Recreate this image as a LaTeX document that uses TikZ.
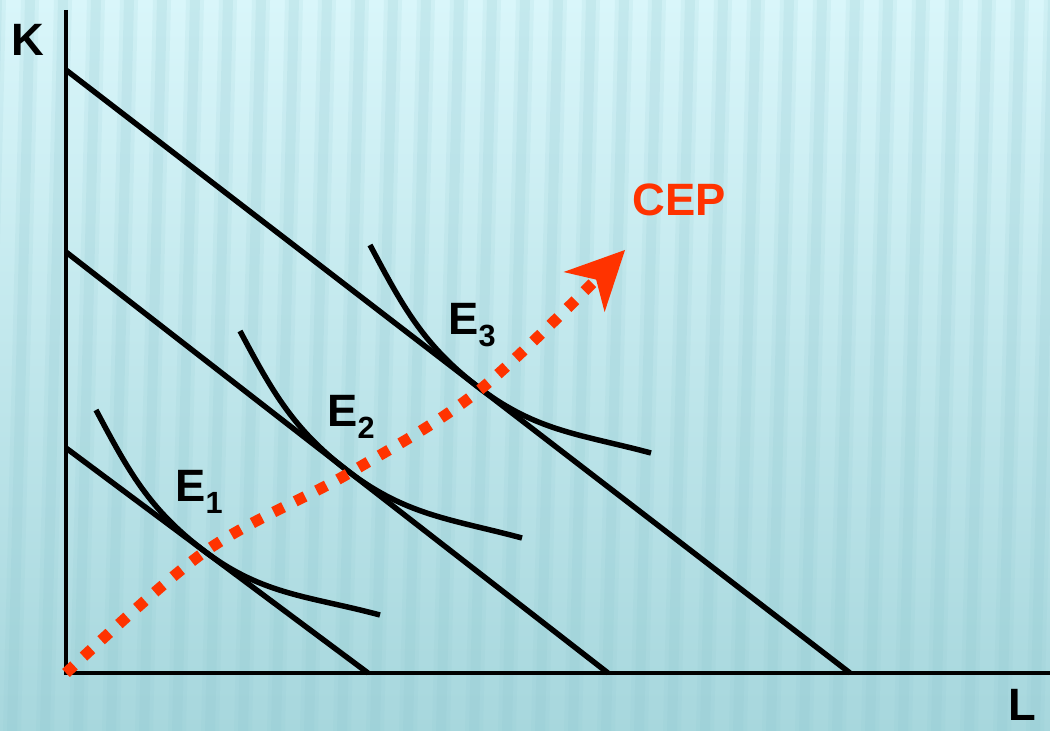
\documentclass[tikz,border=0pt]{standalone}
\usepackage{fontspec}
\setmainfont{Liberation Sans}
\usepackage{xcolor}
\usepackage{tikz}
\usetikzlibrary{arrows.meta,calc}
\definecolor{cr}{HTML}{FF3300}
\definecolor{ct}{HTML}{D9F6FA}
\definecolor{cm}{HTML}{CBEEF3}
\definecolor{cl}{HTML}{A7D7DD}
\definecolor{cs}{HTML}{8FC8D0}
\newcommand{\lo}[1]{\raisebox{-9pt}{\fontsize{23}{23}\selectfont #1}}

\begin{document}
\begin{tikzpicture}[x=0.75pt,y=0.75pt, font=\fontsize{34}{40}\selectfont\bfseries,
  line/.style={line width=4.1pt}, ax/.style={line width=3pt},
  cepline/.style={draw=cr, line width=8.25pt, dash pattern=on 8.25pt off 9.75pt},
  lab/.style={inner sep=0pt}]
  \useasboundingbox (0,0) rectangle (1050,731);
  \shade[top color=ct, middle color=cm, bottom color=cl] (0,0) rectangle (1050,731);
  \foreach \x in {-8,25,...,1090} {
    \fill[cs, opacity=0.13] (\x-4,731) -- ++(18,0) -- ++(-18,-731) -- ++(-18,0) -- cycle;
    \fill[cs, opacity=0.17] (\x,731) -- ++(10,0) -- ++(-18,-731) -- ++(-10,0) -- cycle;}
  \coordinate (O) at (66,58);
  \coordinate (Ktop) at (66,721);
  \coordinate (Lend) at (1050,58);
  \foreach \n/\a/\b/\t in {1/283/368/0.4603, 2/479/608/0.524, 3/661/850/0.529} {
    \coordinate (a\n) at (66,\a);
    \coordinate (b\n) at (\b,58);
    \coordinate (T\n) at ($(a\n)!\t!(b\n)$);}
  \foreach \n/\sx/\sy/\ex/\ey in {1/96/321/380/116, 2/240/400/522/193, 3/370/486/651/278} {
    \coordinate (s\n) at (\sx,\sy);
    \coordinate (e\n) at (\ex,\ey);}
  \coordinate (tip) at (625,481);
  \draw[ax] (Ktop) -- (O) -- (Lend);
  \foreach \n in {1,2,3} {
    \draw[line] (a\n) -- (b\n);
    \draw[line] (s\n) to[out=-62, in=143] (T\n) to[out=-37, in=165] (e\n);}
  \draw[cepline, -{Stealth[length=44pt,width=43pt,inset=13pt,line width=0pt]}]
    plot[smooth, tension=0.55] coordinates {(O) (T1) (T2) (T3) (tip)};
  \node[lab] (K) at (27.5,691) {K};
  \node[lab] (L) at (1022,26) {L};
  \node[lab, text=cr] (cep) at (679,531.5) {CEP};
  \foreach \n/\x/\y in {1/175/229, 2/327/304, 3/448/396}
    \node[lab, anchor=base west] (E\n) at (\x,\y) {E\lo{\n}};
\end{tikzpicture}
\end{document}
